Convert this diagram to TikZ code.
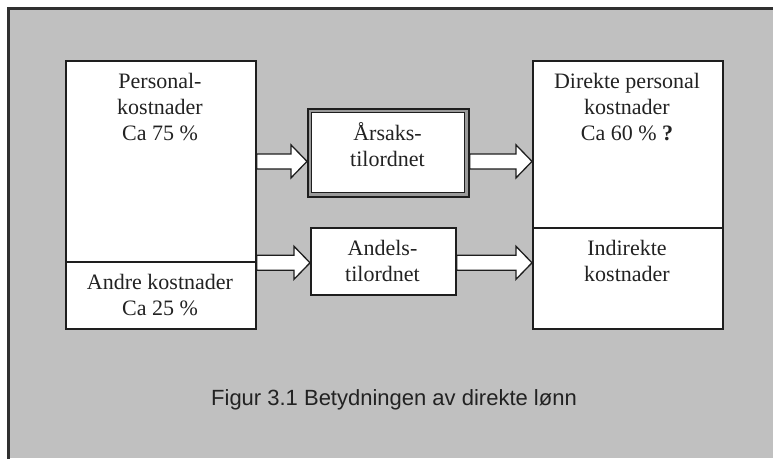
\documentclass[tikz,border=0pt]{standalone}
\usepackage{fontspec}
\setmainfont{Liberation Serif}
\newfontfamily\capfont{Liberation Sans}
\usetikzlibrary{calc}
\definecolor{bggray}{HTML}{C0C0C0}
\definecolor{framegray}{HTML}{303030}
\definecolor{linecol}{HTML}{1E1E1E}
\definecolor{gapgray}{HTML}{9A9A9A}
\definecolor{txtcol}{HTML}{222222}
\begin{document}
\begin{tikzpicture}[x=1pt,y=-1pt,
  box/.style={draw=linecol, line width=1.8pt, fill=white, rectangle, inner sep=0, anchor=north west},
  txt/.style={font=\fontsize{22}{26}\selectfont, align=center, anchor=north, inner sep=0, text=txtcol},
  blockarrow/.style={draw=linecol, line width=1.3pt, fill=white, line join=miter,
    to path={let \p1=(\tikztostart), \p2=(\tikztotarget) in
      (\x1,\y1+7.5pt) -- (\x2-16pt,\y1+7.5pt) -- (\x2-16pt,\y1+16.5pt) -- (\x2,\y1)
      -- (\x2-16pt,\y1-16.5pt) -- (\x2-16pt,\y1-7.5pt) -- (\x1,\y1-7.5pt) -- cycle}}]
\useasboundingbox (0,0) rectangle (773,458);
% background frame
\fill[bggray] (8,8) rectangle (773,458);
\draw[framegray, line width=3pt] (8,470) -- (8,8) -- (785,8);
% boxes
\node[box, minimum width=190pt, minimum height=201pt] (P) at (65,60) {};
\node[box, minimum width=190pt, minimum height=67pt] (A) at (65,261) {};
\node[box, minimum width=190pt, minimum height=167pt] (D) at (532,60) {};
\node[box, minimum width=190pt, minimum height=101pt] (I) at (532,227) {};
\node[box, fill=gapgray, minimum width=161pt, minimum height=88pt] (AR) at (307,108) {};
\node[box, line width=1.3pt, minimum width=153pt, minimum height=80pt] (ARi) at (311,112) {};
\node[box, minimum width=145pt, minimum height=67pt] (AN) at (310,227) {};
% texts
\node[txt] (Pt) at (160,68) {\rule{0pt}{20pt}Personal-\\kostnader\\Ca 75 \%};
\node[txt] (At) at (160,269) {\rule{0pt}{20pt}Andre kostnader\\Ca 25 \%};
\node[txt] (ARt) at (387.5,120) {\rule{0pt}{20pt}Årsaks-\\tilordnet};
\node[txt] (ANt) at (382.5,235) {\rule{0pt}{20pt}Andels-\\tilordnet};
\node[txt] (Dt) at (627,68) {\rule{0pt}{20pt}Direkte personal\\kostnader\\Ca 60 \% \textbf{?}};
\node[txt] (It) at (627,235) {\rule{0pt}{20pt}Indirekte\\kostnader};
\node[font=\capfont\fontsize{22}{26}\selectfont, anchor=base, inner sep=0, text=txtcol] (cap) at (394,405) {Figur 3.1 Betydningen av direkte lønn};
% arrows
\draw[blockarrow] (P.east) to (AR.west |- P.east);
\draw[blockarrow] (AR.east |- P.east) to (D.west |- P.east);
\draw[blockarrow] (P.south east) to (AN.west |- P.south east);
\draw[blockarrow] (AN.east |- P.south east) to (I.west |- P.south east);
\end{tikzpicture}
\end{document}
